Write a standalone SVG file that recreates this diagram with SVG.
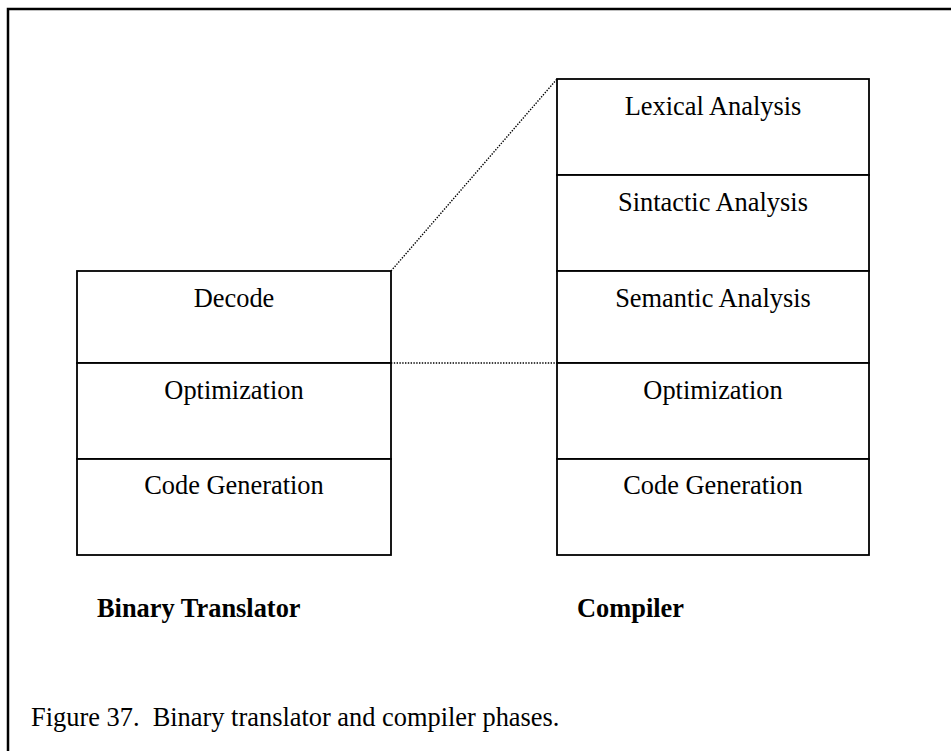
<svg xmlns="http://www.w3.org/2000/svg" width="951" height="751" viewBox="0 0 951 751">
  <style>
    .frame { fill: none; stroke: #000; stroke-width: 2.5; }
    .box { fill: #fff; stroke: #000; stroke-width: 1.8; }
    .sep { stroke: #000; stroke-width: 1.8; }
    .dot { fill: none; stroke: #000; stroke-width: 1.4; stroke-dasharray: 1.4 1.4; }
    .lbl { font-family: "Liberation Serif", "Times New Roman", serif; font-size: 26.4px; fill: #000; text-anchor: middle; }
    .title { font-family: "Liberation Serif", "Times New Roman", serif; font-size: 26.4px; font-weight: bold; fill: #000; }
    .caption { font-family: "Liberation Serif", "Times New Roman", serif; font-size: 26.4px; fill: #000; white-space: pre; }
  </style>
  <rect x="0" y="0" width="951" height="751" fill="#fff"/>
  <!-- outer frame, open to the right and bottom -->
  <path class="frame" d="M8,760 V9 H960"/>

  <!-- zoom connectors between the two stacks -->
  <g id="connectors">
    <line class="dot" x1="391" y1="271" x2="557" y2="79"/>
    <line class="dot" x1="391" y1="363" x2="557" y2="363"/>
  </g>

  <!-- binary translator stack -->
  <g id="bt-decode">
    <rect class="box" x="77" y="271" width="314" height="92"/>
    <text class="lbl" x="234" y="307">Decode</text>
  </g>
  <g id="bt-optimization">
    <rect class="box" x="77" y="363" width="314" height="96"/>
    <text class="lbl" x="234" y="399">Optimization</text>
  </g>
  <g id="bt-codegen">
    <rect class="box" x="77" y="459" width="314" height="96"/>
    <text class="lbl" x="234" y="494">Code Generation</text>
  </g>
  <g id="bt-title">
    <text class="title" x="97" y="617">Binary Translator</text>
  </g>

  <!-- compiler stack -->
  <g id="c-lexical">
    <rect class="box" x="557" y="79" width="312" height="96"/>
    <text class="lbl" x="713" y="115">Lexical Analysis</text>
  </g>
  <g id="c-syntactic">
    <rect class="box" x="557" y="175" width="312" height="96"/>
    <text class="lbl" x="713" y="211">Sintactic Analysis</text>
  </g>
  <g id="c-semantic">
    <rect class="box" x="557" y="271" width="312" height="92"/>
    <text class="lbl" x="713" y="307">Semantic Analysis</text>
  </g>
  <g id="c-optimization">
    <rect class="box" x="557" y="363" width="312" height="96"/>
    <text class="lbl" x="713" y="399">Optimization</text>
  </g>
  <g id="c-codegen">
    <rect class="box" x="557" y="459" width="312" height="96"/>
    <text class="lbl" x="713" y="494">Code Generation</text>
  </g>
  <g id="c-title">
    <text class="title" x="577" y="617">Compiler</text>
  </g>

  <text class="caption" x="31" y="726" xml:space="preserve">Figure 37.  Binary translator and compiler phases.</text>
</svg>
